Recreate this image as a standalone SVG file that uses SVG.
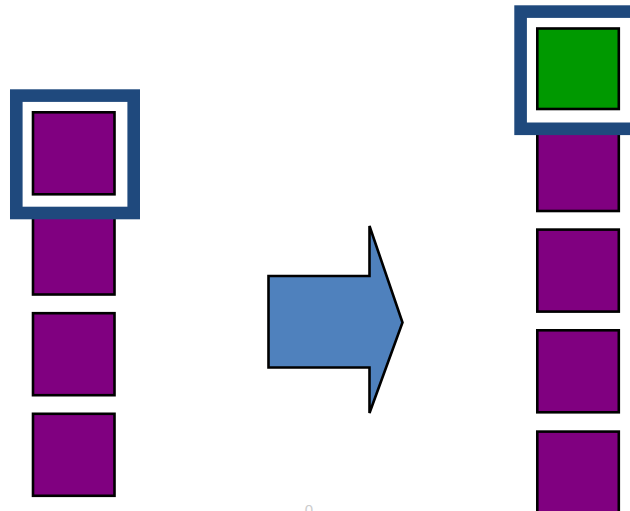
<svg xmlns="http://www.w3.org/2000/svg" width="630" height="511" viewBox="0 0 630 511">
<style>
.sq{fill:#800080;stroke:#000;stroke-width:2.6}
.g{fill:#009900;stroke:#000;stroke-width:2.6}
.fr{fill:none;stroke:#1F497D;stroke-width:12.6}
.ar{fill:#4F81BD;stroke:#000;stroke-width:2.6;stroke-linejoin:miter}
</style>
<rect width="630" height="511" fill="#fff"/>
<g id="left-column">
<rect id="l1" class="sq" x="33" y="112.3" width="81.5" height="82"/>
<rect id="l2" class="sq" x="33" y="212.5" width="81.5" height="82"/>
<rect id="l3" class="sq" x="33" y="313.2" width="81.5" height="82"/>
<rect id="l4" class="sq" x="33" y="413.8" width="81.5" height="82"/>
<rect id="l-frame" class="fr" x="16.3" y="95.6" width="117.4" height="117.4"/>
</g>
<g id="right-column">
<rect id="r2" class="sq" x="537.3" y="129" width="81.5" height="82"/>
<rect id="r3" class="sq" x="537.3" y="229.6" width="81.5" height="82"/>
<rect id="r4" class="sq" x="537.3" y="330.3" width="81.5" height="82"/>
<rect id="r5" class="sq" x="537.3" y="431.6" width="81.5" height="82"/>
<rect id="r1" class="g" x="537.3" y="28.5" width="81.5" height="80.5"/>
<rect id="r-frame" class="fr" x="520.6" y="11.6" width="117.4" height="117.2"/>
</g>
<g id="connectors">
<path id="arrow" class="ar" d="M268.5,276 L369.5,276 L369.5,226 L402.5,322.5 L369.5,413 L369.5,367.5 L268.5,367.5 Z"/>
</g>
<text x="309" y="515" font-family="Liberation Sans, sans-serif" font-size="15" fill="#cccccc" text-anchor="middle">0</text>
</svg>
